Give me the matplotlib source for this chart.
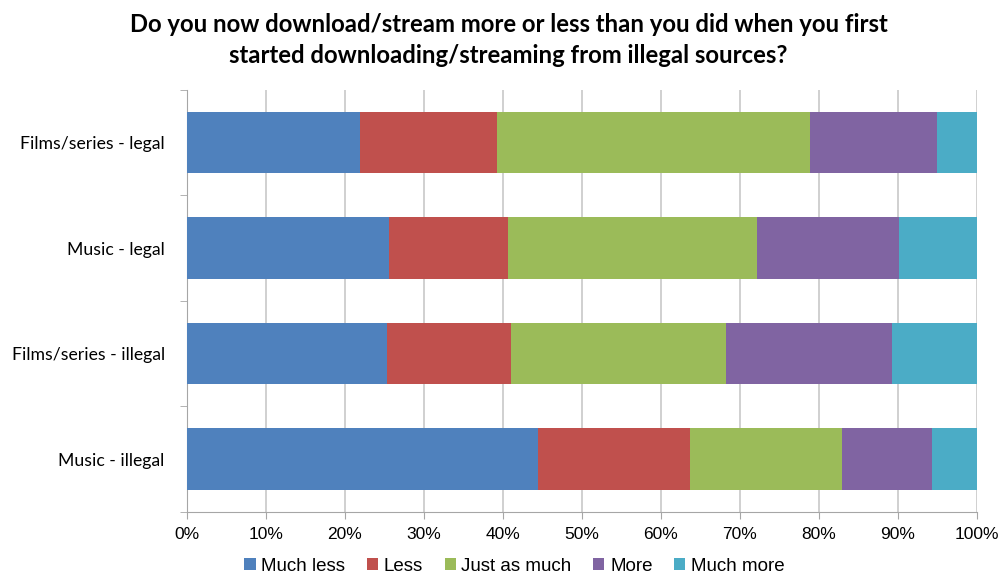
import matplotlib.pyplot as plt
import numpy as np
from matplotlib.ticker import PercentFormatter

# share of respondents per answer, in percent
categories = ['Films/series - legal', 'Music - legal', 'Films/series - illegal', 'Music - illegal']
answers = ['Much less', 'Less', 'Just as much', 'More', 'Much more']
much_less = [21.9, 25.6, 25.3, 44.5]
less = [17.4, 15.0, 15.7, 19.2]
just_as_much = [39.6, 31.6, 27.3, 19.2]
more = [16.1, 17.9, 20.9, 11.4]
much_more = [5.0, 9.9, 10.8, 5.7]

colors = ['#4F81BD', '#C0504D', '#9BBB59', '#8064A2', '#4BACC6']
series = [much_less, less, just_as_much, more, much_more]

fig = plt.figure(figsize=(10.05, 5.79), dpi=100)
ax = fig.add_axes([0.186, 0.116, 0.786, 0.729])

y = np.arange(len(categories))
left = np.zeros(len(categories))
for vals, name, c in zip(series, answers, colors):
    vals = np.array(vals)
    ax.barh(y, vals, left=left, height=0.585, color=c, label=name, zorder=3)
    left += vals

ax.set_xlim(0, 100)
ax.set_ylim(3.5, -0.5)
ax.set_xticks(np.arange(0, 101, 10))
ax.xaxis.set_major_formatter(PercentFormatter(decimals=0))
ax.set_yticks(y)
ax.set_yticklabels(categories, fontfamily='Lato', fontsize=12.7)
ax.set_yticks(np.arange(-0.5, 4, 1), minor=True)
ax.tick_params(axis='y', which='major', length=0, pad=16)
ax.tick_params(axis='y', which='minor', length=5, color='#A6A6A6')
ax.tick_params(axis='x', length=5, color='#A6A6A6', labelsize=12.5, pad=6)
for lbl in ax.get_xticklabels():
    lbl.set_family('Liberation Sans')

ax.grid(axis='x', color='#C8C8C8', linewidth=1.2, zorder=0)
for side in ['top', 'right']:
    ax.spines[side].set_visible(False)
for side in ['left', 'bottom']:
    ax.spines[side].set_color('#A6A6A6')

fig.suptitle('Do you now download/stream more or less than you did when you first\n'
             'started downloading/streaming from illegal sources?',
             x=0.506, y=0.978, fontsize=17.2, fontweight='bold', fontfamily='Lato',
             linespacing=1.45)

leg = fig.legend(loc='lower center', bbox_to_anchor=(0.512, -0.022), ncol=5, frameon=False,
                 handlelength=0.6, handleheight=0.6, handletextpad=0.3, columnspacing=1.15,
                 prop={'family': 'Liberation Sans', 'size': 13.5})

fig.savefig('out.png', dpi=100)
